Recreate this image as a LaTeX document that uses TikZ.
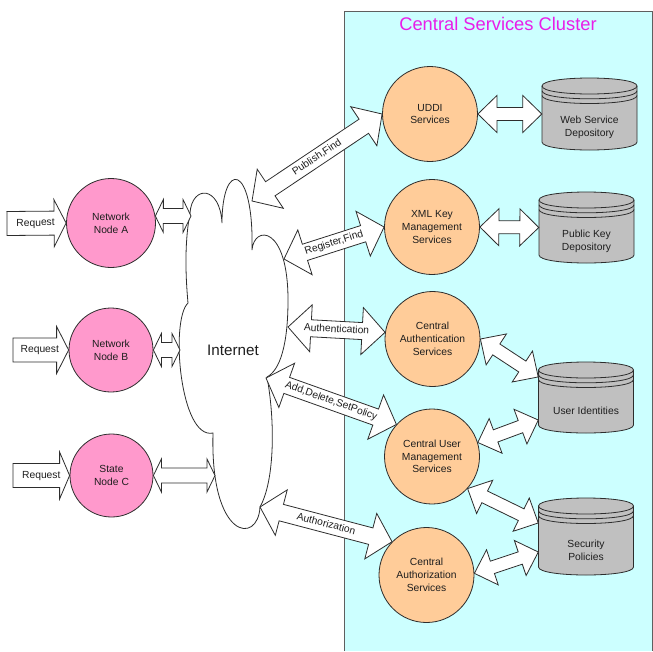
\documentclass[tikz,border=0pt]{standalone}
\usepackage{fontspec}
\setmainfont{Liberation Sans}
\usetikzlibrary{calc}
\definecolor{clusterfill}{RGB}{204,255,255}
\definecolor{clusterline}{RGB}{95,95,95}
\definecolor{titlecol}{RGB}{232,30,232}
\definecolor{pinkfill}{RGB}{255,153,204}
\definecolor{orangefill}{RGB}{255,204,153}
\definecolor{dbfill}{RGB}{192,192,192}
\definecolor{edgecol}{RGB}{45,45,45}
\definecolor{txtcol}{RGB}{30,30,30}

% direction and length between two points
\newcommand\getdir[2]{%
  \path let \p1=(#1), \p2=(#2) in \pgfextra{%
    \pgfmathsetmacro\baang{atan2(\y2-\y1,\x2-\x1)}%
    \pgfmathsetmacro\balen{veclen(\x2-\x1,\y2-\y1)}%
    \global\let\baang\baang\global\let\balen\balen};}
% double block arrow: name, from, to, half body, half head, head length, label
\newcommand\dblarrow[7]{%
  \getdir{#2}{#3}%
  \begin{scope}[shift={(#2)}, rotate=\baang]
    \pgfmathsetmacro\bb{\balen-#6}
    \draw[barrowline] (0,0) -- (#6,#5) -- (#6,#4) -- (\bb,#4) -- (\bb,#5) -- (\balen,0)
      -- (\bb,-#5) -- (\bb,-#4) -- (#6,-#4) -- (#6,-#5) -- cycle;
    \node[barrowtext, transform shape] (#1) at ({\balen/2},0) {#7};
  \end{scope}}
% single block arrow: name, from, to, half body, half head, head length, label
\newcommand\sglarrow[7]{%
  \getdir{#2}{#3}%
  \begin{scope}[shift={(#2)}, rotate=\baang]
    \pgfmathsetmacro\bb{\balen-#6}
    \draw[barrowline] (0,#4) -- (\bb,#4) -- (\bb,#5) -- (\balen,0)
      -- (\bb,-#5) -- (\bb,-#4) -- (0,-#4) -- cycle;
    \node[barrowtext, transform shape] (#1) at ({\bb/2+5},0) {#7};
  \end{scope}}
\newcommand\dbcyl[5]{%
  \draw[dbshape] ({#2-47.5},{#3+8}) -- ({#2-47.5},{#4-8})
    .. controls ({#2-47.5},{#4+2.667}) and ({#2+47.5},{#4+2.667}) .. ({#2+47.5},{#4-8})
    -- ({#2+47.5},{#3+8})
    .. controls ({#2+47.5},{#3-2.667}) and ({#2-47.5},{#3-2.667}) .. cycle;
  \foreach \d in {0,4.8,9.5}{
    \draw[dbline] ({#2-47.5},{#3+8+\d})
      .. controls ({#2-47.5},{#3+18.667+\d}) and ({#2+47.5},{#3+18.667+\d}) .. ({#2+47.5},{#3+8+\d});}
  \node[dbbox, minimum height={#4-#3}] (#1) at (#2,{(#3+#4)/2}) {};
  \node[dbtext] (#1-t) at (#2,{(#3+#4)/2+13.5}) {#5};}

\tikzset{
  basefont/.style={font=\fontsize{10.3}{12.8}\selectfont, text=txtcol},
  netnode/.style={circle, draw=edgecol, line width=0.8pt, fill=pinkfill, inner sep=0pt, align=center, basefont},
  svcnode/.style={circle, draw=edgecol, line width=0.8pt, fill=orangefill, inner sep=0pt, minimum size=95pt, align=center, basefont},
  dbshape/.style={draw=edgecol, line width=0.8pt, fill=dbfill},
  dbline/.style={draw=edgecol, line width=0.8pt},
  dbbox/.style={rectangle, draw=none, inner sep=0pt, minimum width=95pt},
  dbtext/.style={align=center, inner sep=0pt, basefont},
  barrowline/.style={draw=edgecol, fill=white, line width=0.8pt, line join=miter},
  barrowtext/.style={inner sep=0pt, text height=7.5pt, text depth=2pt, basefont},
  cloudstyle/.style={draw=edgecol, line width=0.8pt, fill=white}
}

\begin{document}
\begin{tikzpicture}[x=1pt, y=-1pt]
\useasboundingbox (0,0) rectangle (653,651);
% cluster
\fill[clusterfill] (344,11) rectangle (652,651);
\draw[clusterline, line width=0.9pt] (344,651) -- (344,11) -- (652,11) -- (652,651);
\node[font=\fontsize{18.3}{20}\selectfont, text=titlecol, inner sep=0pt] (ttl) at (498,24) {Central Services Cluster};

% cloud
\draw[cloudstyle] (190,213) .. controls (192,185) and (220,185) .. (222,223)
  .. controls (222,160) and (254,162) .. (252,250)
  .. controls (254,225) and (288,225) .. (288,300)
  .. controls (288,345) and (280,370) .. (267,377)
  .. controls (275,420) and (275,480) .. (260,507)
  .. controls (258,545) and (210,540) .. (213,433)
  .. controls (180,440) and (170,320) .. (188,303)
  .. controls (185,270) and (185,240) .. cycle;
\node[font=\fontsize{15.2}{17}\selectfont, text=txtcol, inner sep=0pt] (inet) at (233,350) {Internet};
\coordinate (cA) at (191,216);
\coordinate (cB) at (180,350);
\coordinate (cC) at (215,475.5);
\coordinate (cPub) at (252,201);
\coordinate (cReg) at (284,259);
\coordinate (cAuth) at (288,327);
\coordinate (cAdd) at (266,378);
\coordinate (cAuz) at (260,507);

% network nodes
\node[netnode, minimum size=89pt] (nA) at (111,223) {Network\\Node A};
\node[netnode, minimum size=84pt] (nB) at (111,350) {Network\\Node B};
\node[netnode, minimum size=83pt] (nC) at (111.5,475.5) {State\\Node C};

% services
\node[svcnode] (uddi) at (430,114) {UDDI\\Services};
\node[svcnode] (xml) at (432,227) {XML Key\\Management\\Services};
\node[svcnode] (auth) at (432.5,339) {Central\\Authentication\\Services};
\node[svcnode] (cum) at (432,456.5) {Central User\\Management\\Services};
\node[svcnode] (caz) at (426.5,575) {Central\\Authorization\\Services};

% databases
\dbcyl{web}{589.5}{78}{150}{Web Service\\Depository}
\dbcyl{pub}{586.5}{192}{263}{Public Key\\Depository}
\dbcyl{uid}{586}{362}{433}{User Identities}
\dbcyl{sec}{586}{498}{575}{Security\\Policies}

% request arrows
\coordinate (qA) at (7,223.5);
\coordinate (qB) at (13,350);
\coordinate (qC) at (13,475.5);
\sglarrow{rA}{qA}{nA.west}{12}{23.5}{12}{Request}
\sglarrow{rB}{qB}{nB.west}{12}{23.5}{12}{Request}
\sglarrow{rC}{qC}{nC.west}{12}{23.5}{10}{Request}

% node-cloud arrows
\dblarrow{aA}{nA.9}{cA}{7.5}{16.5}{8}{}
\dblarrow{aB}{nB.east}{cB}{7.5}{16.5}{8}{}
\dblarrow{aC}{nC.east}{cC}{7.5}{16.5}{8}{}

% cloud-service arrows
\dblarrow{pf}{cPub}{uddi.west}{8.5}{23.5}{22}{Publish,Find}
\dblarrow{rf}{cReg}{xml.west}{8.5}{23.5}{22}{Register,Find}
\dblarrow{au}{cAuth}{auth.172}{8.5}{23.5}{23}{Authentication}
\dblarrow{ad}{cAdd}{cum.138}{8.5}{23.5}{22}{Add,Delete,SetPolicy}
\dblarrow{az}{cAuz}{caz.136}{8.5}{23.5}{22}{Authorization}

% service-db arrows
\dblarrow{d1}{uddi.east}{web.west}{6.5}{18.5}{19}{}
\dblarrow{d2}{xml.east}{pub.west}{6.5}{18.5}{19}{}
\dblarrow{d3}{auth.east}{$(uid.west)+(0,-20.5)$}{6.5}{18.5}{19}{}
\dblarrow{d4}{cum.17}{$(uid.west)+(0,22.5)$}{6.5}{18.5}{19}{}
\dblarrow{d5}{cum.318}{$(sec.west)+(0,-13.5)$}{6.5}{18.5}{19}{}
\dblarrow{d6}{caz.2}{$(sec.west)+(0,15.5)$}{6.5}{18.5}{19}{}
\end{tikzpicture}
\end{document}
